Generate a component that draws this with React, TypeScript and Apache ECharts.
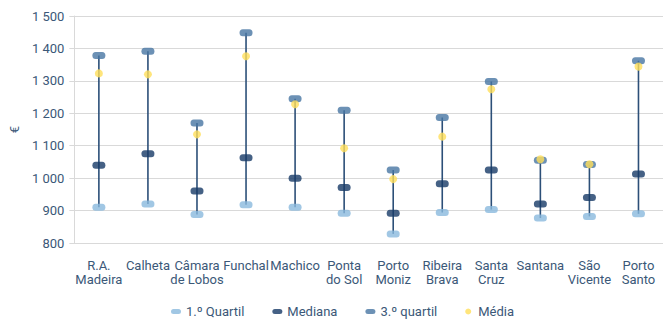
import React, { useEffect, useRef } from "react";
import * as echarts from "echarts";

const categories = [
  "R.A.\nMadeira", "Calheta", "Câmara\nde Lobos", "Funchal", "Machico", "Ponta\ndo Sol",
  "Porto\nMoniz", "Ribeira\nBrava", "Santa\nCruz", "Santana", "São\nVicente", "Porto\nSanto",
];
const quartil1 = [910, 920, 888, 918, 910, 892, 828, 894, 903, 877, 882, 890];
const mediana = [1040, 1075, 960, 1063, 1000, 971, 892, 983, 1025, 920, 940, 1013];
const quartil3 = [1378, 1391, 1170, 1448, 1245, 1209, 1025, 1187, 1298, 1055, 1042, 1362];
const media = [1323, 1320, 1135, 1376, 1228, 1092, 997, 1128, 1274, 1058, 1043, 1344];

const FONT = "Roboto";
const TXT = "#3b5878";
const PILL = "path://M3,0 H9 A3,3 0 0 1 9,6 H3 A3,3 0 0 1 3,0 Z";

function fmt(v: number) {
  if (v >= 1000) return Math.floor(v / 1000) + " " + String(v % 1000).padStart(3, "0");
  return String(v);
}

export default function App() {
  const ref = useRef<HTMLDivElement>(null);
  useEffect(() => {
    const chart = echarts.init(ref.current!, undefined, { renderer: "svg" });
    chart.setOption({
      animation: false,
      textStyle: { fontFamily: FONT },
      grid: { left: 70, right: 0, top: 16, bottom: 77 },
      legend: {
        top: 303,
        left: 166,
        padding: [2, 5],
        itemGap: 28,
        itemWidth: 10,
        itemHeight: 6,
        textStyle: { color: TXT, fontSize: 13, fontFamily: FONT },
        data: [
          { name: "1.º Quartil", icon: PILL },
          { name: "Mediana", icon: PILL },
          { name: "3.º quartil", icon: PILL },
          { name: "Média", icon: "circle", itemStyle: { color: "#ffdf5a" } },
        ],
      },
      xAxis: {
        type: "category",
        data: categories,
        boundaryGap: true,
        axisLine: { lineStyle: { color: "#d9d9d9" } },
        axisTick: { alignWithLabel: true, length: 5, lineStyle: { color: "#d9d9d9" } },
        axisLabel: { color: TXT, fontSize: 13, lineHeight: 14, margin: 15, interval: 0, fontFamily: FONT },
      },
      yAxis: {
        type: "value",
        min: 800,
        max: 1500,
        interval: 100,
        name: "€",
        nameLocation: "middle",
        nameGap: 52,
        nameRotate: 90,
        nameTextStyle: { color: TXT, fontSize: 13, fontFamily: FONT },
        axisLine: { show: true, lineStyle: { color: "#d9d9d9" } },
        axisTick: { show: true, length: 5, lineStyle: { color: "#d9d9d9" } },
        axisLabel: { color: TXT, fontSize: 13, margin: 10, formatter: fmt, fontFamily: FONT },
        splitLine: { lineStyle: { color: "#d9d9d9", width: 1 } },
      },
      series: [
        {
          type: "custom",
          name: "range",
          data: quartil1.map((q, i) => [i, q, quartil3[i]]),
          encode: { x: 0, y: [1, 2] },
          renderItem: (params: any, api: any) => {
            const p1 = api.coord([api.value(0), api.value(1)]);
            const p2 = api.coord([api.value(0), api.value(2)]);
            return {
              type: "line",
              shape: { x1: p1[0], y1: p1[1], x2: p2[0], y2: p2[1] },
              style: { stroke: "#2c4f78", lineWidth: 1.6 },
            };
          },
          silent: true,
          z: 1,
        },
        {
          type: "scatter",
          name: "1.º Quartil",
          data: quartil1,
          symbol: PILL,
          symbolSize: [13, 7],
          itemStyle: { color: "#8ab9dd" },
          z: 2,
        },
        {
          type: "scatter",
          name: "Mediana",
          data: mediana,
          symbol: PILL,
          symbolSize: [13, 7],
          itemStyle: { color: "#163a66" },
          z: 2,
        },
        {
          type: "scatter",
          name: "3.º quartil",
          data: quartil3,
          symbol: PILL,
          symbolSize: [13, 7],
          itemStyle: { color: "#4776a3" },
          z: 2,
        },
        {
          type: "scatter",
          name: "Média",
          data: media,
          symbol: "circle",
          symbolSize: 8,
          itemStyle: { color: "#ffdf5a" },
          z: 3,
        },
      ],
    });
    return () => chart.dispose();
  }, []);
  return (
    <div
      ref={ref}
      style={{ position: "absolute", left: 0, top: 0, width: 663, height: 320 }}
    />
  );
}
